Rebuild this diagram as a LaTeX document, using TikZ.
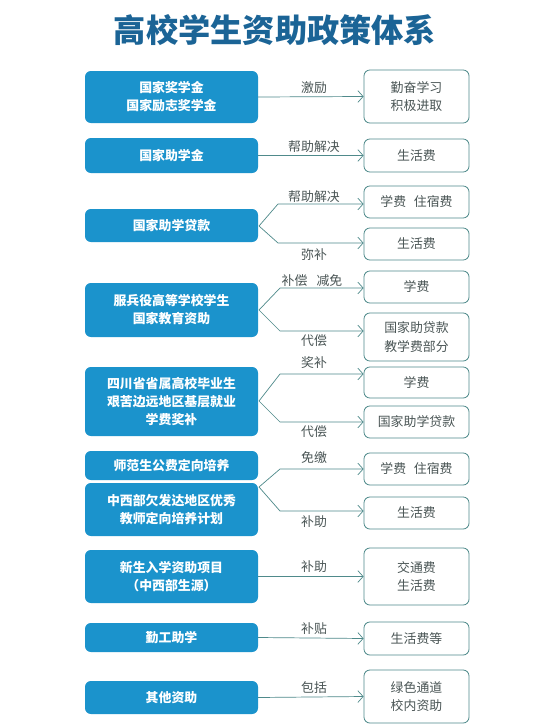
\documentclass[tikz,border=0pt]{standalone}
\usepackage{fontspec}
\setmainfont{Noto Sans CJK SC}
\usepackage{xcolor}
\usetikzlibrary{shapes,arrows.meta,positioning}
\definecolor{boxblue}{HTML}{1B93CC}
\definecolor{titleblue}{HTML}{1B6496}
\definecolor{linec}{HTML}{4F8A8B}
\definecolor{textgray}{HTML}{4A5555}

\tikzset{
  leftbox/.style={fill=boxblue, rounded corners=5pt, minimum width=173*0.03cm, inner sep=0pt,
    align=center, text=white, font=\fontsize{11}{15.3}\selectfont\bfseries},
  rightbox/.style={draw=linec, line width=0.7pt, fill=white, rounded corners=5pt, minimum width=105*0.03cm,
    inner sep=0pt, align=center, text=textgray, font=\fontsize{11}{16}\selectfont},
  flow/.style={draw=linec, line width=0.6pt, -{Straight Barb[length=4.5pt,width=10pt]}},
  tag/.style={text=textgray, font=\fontsize{11}{13}\selectfont, inner sep=0pt}
}

\begin{document}
\begin{tikzpicture}[x=0.03cm, y=-0.03cm]
\useasboundingbox[fill=white] (0,0) rectangle (553,728);
% Title
\node[text=titleblue, font=\fontsize{27.5}{30}\selectfont\bfseries] (title) at (275,30) {高校学生资助政策体系};
% Draw left boxes
\foreach \n/\y/\h/\t in {l1/97/52/{国家奖学金\\国家励志奖学金}, l2/155.5/35/{国家助学金},
    l3/225.5/33/{国家助学贷款}, l4/310/54/{服兵役高等学校学生\\国家教育资助},
    l5/401.5/69/{四川省省属高校毕业生\\艰苦边远地区基层就业\\学费奖补},
    l6a/465.5/29/{师范生公费定向培养}, l6b/509.5/53/{中西部欠发达地区优秀\\教师定向培养计划},
    l7/576.5/53/{新生入学资助项目\\（中西部生源）}, l8/637.5/29/{勤工助学}, l9/697.5/33/{其他资助}} {
    \node[leftbox, minimum height=\h*0.03cm] (\n) at (171.5,\y) {\t};
}
% Draw right boxes
\foreach \n/\y/\h/\t in {r1/96.5/53/{勤奋学习\\积极进取}, r2/155.5/33/{生活费},
    r3a/202/32/{学费\hspace{0.6em}住宿费}, r3b/244/32/{生活费}, r4a/287/32/{学费},
    r4b/337/48/{国家助贷款\\教学费部分}, r5a/382.5/31/{学费}, r5b/422/32/{国家助学贷款},
    r6a/469/32/{学费\hspace{0.6em}住宿费}, r6b/513/32/{生活费}, r7/576.5/57/{交通费\\生活费},
    r8/638.5/33/{生活费等}, r9/696.5/53/{绿色通道\\校内资助}} {
    \node[rightbox, minimum height=\h*0.03cm] (\n) at (416.5,\y) {\t};
}
% Branch points
\coordinate (s3) at (259,226);
\coordinate (k3a) at (278,204);
\coordinate (k3b) at (278,243);
\coordinate (s4) at (259,310);
\coordinate (k4a) at (280,288);
\coordinate (k4b) at (280,331);
\coordinate (s5) at (259,401);
\coordinate (k5a) at (280,374);
\coordinate (k5b) at (280,422);
\coordinate (s6) at (259,487);
\coordinate (k6a) at (280,469);
\coordinate (k6b) at (280,511);
% Connectors
\draw[flow] (l1.east) -- (r1.west);
\draw[flow] (l2.east) -- (r2.west);
\draw[flow] (s3) -- (k3a) -- (k3a -| r3a.west);
\draw[flow] (s3) -- (k3b) -- (k3b -| r3b.west);
\draw[flow] (s4) -- (k4a) -- (k4a -| r4a.west);
\draw[flow] (s4) -- (k4b) -- (k4b -| r4b.west);
\draw[flow] (s5) -- (k5a) -- (k5a -| r5a.west);
\draw[flow] (s5) -- (k5b) -- (k5b -| r5b.west);
\draw[flow] (s6) -- (k6a) -- (k6a -| r6a.west);
\draw[flow] (s6) -- (k6b) -- (k6b -| r6b.west);
\draw[flow] (l7.east |- r7.west) -- (r7.west);
\draw[flow] (l8.east) -- (r8.west);
\draw[flow] (l9.east) -- (r9.west);
% Labels
\node[tag] (t1) at (314,88) {激励};
\node[tag] (t2) at (314,147) {帮助解决};
\node[tag] (t3a) at (314,197) {帮助解决};
\node[tag] (t3b) at (314,255) {弥补};
\node[tag] (t4a) at (312,281) {补偿\hspace{0.7em}减免};
\node[tag] (t4b) at (314,341) {代偿};
\node[tag] (t5a) at (314,363) {奖补};
\node[tag] (t5b) at (314,432) {代偿};
\node[tag] (t6a) at (314,458) {免缴};
\node[tag] (t6b) at (314,522) {补助};
\node[tag] (t7) at (314,567) {补助};
\node[tag] (t8) at (314,629) {补贴};
\node[tag] (t9) at (314,688) {包括};
\end{tikzpicture}
\end{document}
